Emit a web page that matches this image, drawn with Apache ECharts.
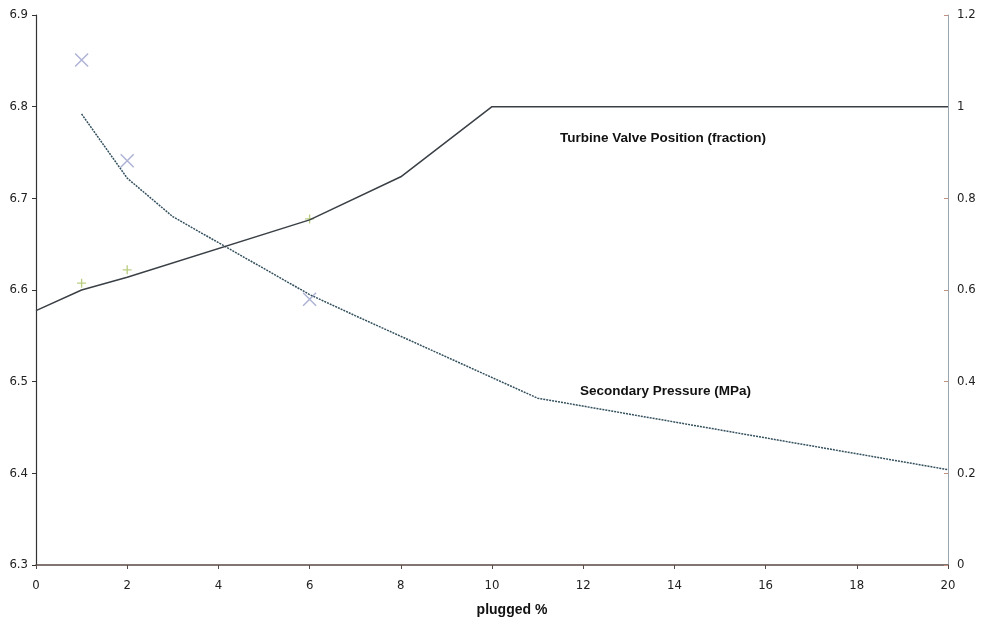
<!DOCTYPE html>
<html>
<head>
<meta charset="utf-8">
<script src="https://cdn.jsdelivr.net/npm/echarts@6/dist/echarts.min.js"></script>
<style>html,body{margin:0;padding:0;background:#fff}#c{width:987px;height:625px}</style>
</head>
<body>
<div id="c"></div>
<script>
// X ticks
const xTicks = [0, 2, 4, 6, 8, 10, 12, 14, 16, 18, 20];
// Secondary Pressure line (MPa, left axis)
const pressureX = [1, 2, 3, 6, 7, 11, 20];
const pressureY = [6.792, 6.722, 6.68, 6.595, 6.572, 6.482, 6.404];
// Turbine valve position line (fraction, right axis)
const valveX = [0, 1, 2, 6, 8, 10, 20];
const valveY = [0.555, 0.6, 0.628, 0.753, 0.847, 1.0, 1.0];
// Measured pressure points (x markers)
const pressurePtsX = [1, 2, 6];
const pressurePtsY = [6.851, 6.741, 6.59];
// Measured valve points (+ markers)
const valvePtsX = [1, 2, 6];
const valvePtsY = [0.615, 0.644, 0.755];

const zip = (a, b) => a.map((v, i) => [v, b[i]]);
const narrow = '"Liberation Sans Narrow", "Arial Narrow", "DejaVu Sans Condensed", "Liberation Sans", Arial, sans-serif';
const sans = '"Liberation Sans", Arial, sans-serif';

const chart = echarts.init(document.getElementById('c'), null, {renderer: 'canvas'});
chart.setOption({
  animation: false,
  backgroundColor: '#ffffff',
  grid: {left: 36, right: 39, top: 15, bottom: 60, containLabel: false},
  xAxis: {
    type: 'value', min: 0, max: 20, interval: 2,
    name: 'plugged %', nameLocation: 'middle', nameGap: 38,
    nameTextStyle: {fontFamily: sans, fontWeight: 'bold', fontSize: 14, color: '#111', padding: [0, 0, 0, 40]},
    axisLine: {show: true, onZero: false, lineStyle: {color: '#5a4a44', width: 1.5}},
    axisTick: {show: true, inside: false, length: 4, lineStyle: {color: '#5a4a44'}},
    axisLabel: {fontFamily: narrow, fontSize: 13, color: '#222', margin: 14},
    splitLine: {show: false}
  },
  yAxis: [
    {
      type: 'value', min: 6.3, max: 6.9, interval: 0.1, position: 'left',
      axisLine: {show: true, lineStyle: {color: '#333', width: 1.2}},
      axisTick: {show: true, length: 4, lineStyle: {color: '#333'}},
      axisLabel: {fontFamily: narrow, fontSize: 13, color: '#222', margin: 8,
        formatter: v => v.toFixed(1)},
      splitLine: {show: false}
    },
    {
      type: 'value', min: 0, max: 1.2, interval: 0.2, position: 'right',
      axisLine: {show: true, lineStyle: {color: '#9aa6b0', width: 1}},
      axisTick: {show: true, length: 4, inside: true, lineStyle: {color: '#c09080'}},
      axisLabel: {fontFamily: narrow, fontSize: 13, color: '#222', margin: 9,
        formatter: v => (Math.round(v * 10) / 10).toString()},
      splitLine: {show: false}
    }
  ],
  series: [
    {
      name: 'Secondary Pressure (MPa)', type: 'line', yAxisIndex: 0,
      data: zip(pressureX, pressureY), symbol: 'none',
      lineStyle: {color: '#34505e', width: 1.5, type: [2, 1]}
    },
    {
      name: 'Turbine Valve Position (fraction)', type: 'line', yAxisIndex: 1,
      data: zip(valveX, valveY), symbol: 'none',
      lineStyle: {color: '#3a4046', width: 1.5}
    },
    {
      name: 'pressure points', type: 'scatter', yAxisIndex: 0,
      data: zip(pressurePtsX, pressurePtsY),
      symbol: 'path://M0,0L10,10M10,0L0,10', symbolSize: 13,
      itemStyle: {color: 'rgba(0,0,0,0)', borderColor: '#9aa0cc', borderWidth: 1.5}
    },
    {
      name: 'valve points', type: 'scatter', yAxisIndex: 1,
      data: zip(valvePtsX, valvePtsY),
      symbol: 'path://M5,0L5,10M0,5L10,5', symbolSize: 9,
      itemStyle: {color: 'rgba(0,0,0,0)', borderColor: '#a8c060', borderWidth: 1.3}
    }
  ],
  graphic: [
    {type: 'text', left: 560, top: 131,
      style: {text: 'Turbine Valve Position (fraction)', fontFamily: sans, fontWeight: 'bold', fontSize: 13.5, fill: '#111'}},
    {type: 'text', left: 580, top: 384,
      style: {text: 'Secondary Pressure (MPa)', fontFamily: sans, fontWeight: 'bold', fontSize: 13.5, fill: '#111'}}
  ]
});
</script>
</body>
</html>
